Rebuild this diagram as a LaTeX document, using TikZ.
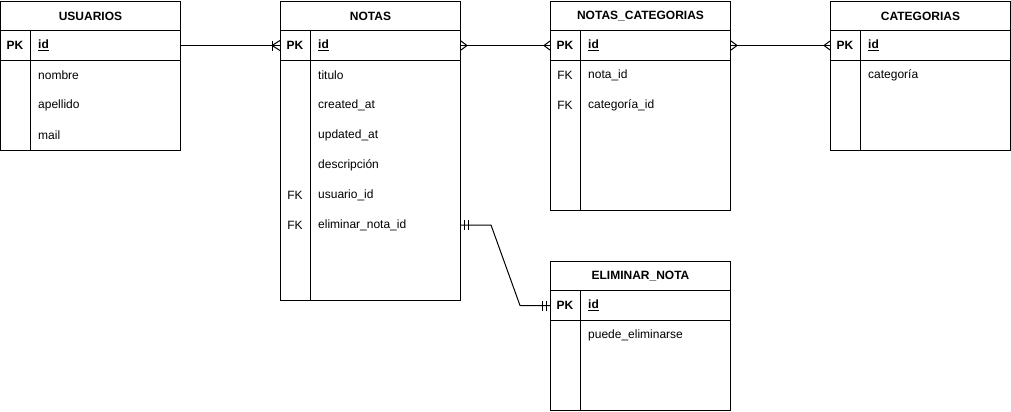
\documentclass[tikz,border=0pt]{standalone}
\usepackage{fontspec}
\setmainfont{Liberation Sans}
\usetikzlibrary{calc}
\newcommand{\fs}{\fontsize{12bp}{14bp}\selectfont}
\begin{document}
\begin{tikzpicture}[x=1bp,y=-1bp,
  hdr/.style={draw, line width=1bp, anchor=north west, minimum width=180bp, minimum height=29bp, inner sep=0pt, font=\bfseries\fs},
  pkrow/.style={draw, line width=1bp, anchor=north west, minimum width=180bp, minimum height=30bp, inner sep=0pt},
  body/.style={draw, line width=1bp},
  fld/.style={anchor=west, inner sep=0pt, font=\fs},
  key/.style={anchor=center, inner sep=0pt, font=\fs},
  pk/.style={anchor=center, inner sep=0pt, font=\bfseries\fs},
  ln/.style={line width=1bp, line join=round}]
\useasboundingbox (0,0) rectangle (1011,411);

% ---------- USUARIOS ----------
\node[hdr] (usuarios) at (0,1) {USUARIOS};
\node[pkrow] (u-pk) at (0,30) {};
\draw[body] (0,60) rectangle (180,150);
\draw[body] (30,30) -- (30,150);
\node[pk] at (15,45) {PK};
\node[fld] (u-id) at (38,45) {\bfseries\underline{id}};
\node[fld] (u-nombre) at (38,75) {nombre};
\node[fld] (u-apellido) at (38,105) {apellido};
\node[fld] (u-mail) at (38,135) {mail};

% ---------- NOTAS ----------
\node[hdr] (notas) at (280,1) {NOTAS};
\node[pkrow] (n-pk) at (280,30) {};
\draw[body] (280,60) rectangle (460,300);
\draw[body] (310,30) -- (310,300);
\node[pk] at (295,45) {PK};
\node[fld] (n-id) at (318,45) {\bfseries\underline{id}};
\node[fld] (n-titulo) at (318,75) {titulo};
\node[fld] (n-created) at (318,105) {created\_at};
\node[fld] (n-updated) at (318,135) {updated\_at};
\node[fld] (n-desc) at (318,165) {descripción};
\node[key] at (295,195) {FK};
\node[fld] (n-usuario) at (318,195) {usuario\_id};
\node[key] at (295,225) {FK};
\node[fld] (n-elim) at (318,225) {eliminar\_nota\_id};

% ---------- NOTAS_CATEGORIAS ----------
\node[hdr] (notascat) at (550,1) {NOTAS\_CATEGORIAS};
\node[pkrow] (nc-pk) at (550,30) {};
\draw[body] (550,60) rectangle (730,210);
\draw[body] (580,30) -- (580,210);
\node[pk] at (565,45) {PK};
\node[fld] (nc-id) at (588,45) {\bfseries\underline{id}};
\node[key] at (565,75) {FK};
\node[fld] (nc-nota) at (588,75) {nota\_id};
\node[key] at (565,105) {FK};
\node[fld] (nc-cat) at (588,105) {categoría\_id};

% ---------- CATEGORIAS ----------
\node[hdr] (categorias) at (830,1) {CATEGORIAS};
\node[pkrow] (c-pk) at (830,30) {};
\draw[body] (830,60) rectangle (1010,150);
\draw[body] (860,30) -- (860,150);
\node[pk] at (845,45) {PK};
\node[fld] (c-id) at (868,45) {\bfseries\underline{id}};
\node[fld] (c-cat) at (868,75) {categoría};

% ---------- ELIMINAR_NOTA ----------
\node[hdr] (elimnota) at (550,261) {ELIMINAR\_NOTA};
\node[pkrow] (e-pk) at (550,290) {};
\draw[body] (550,320) rectangle (730,410);
\draw[body] (580,290) -- (580,410);
\node[pk] at (565,305) {PK};
\node[fld] (e-id) at (588,305) {\bfseries\underline{id}};
\node[fld] (e-puede) at (588,335) {puede\_eliminarse};

% ---------- connectors ----------
% USUARIOS -> NOTAS (one to many)
\draw[ln] (u-pk.east) -- (n-pk.west);
\draw[ln] ($(n-pk.west)+(-8,-5)$) -- ($(n-pk.west)+(-8,5)$);
\draw[ln] ($(n-pk.west)+(0,-5)$) -- ($(n-pk.west)+(-8,0)$) -- ($(n-pk.west)+(0,5)$);

% NOTAS -> NOTAS_CATEGORIAS (many to many)
\draw[ln] (n-pk.east) -- (nc-pk.west);
\draw[ln] ($(n-pk.east)+(0,-4.5)$) -- ($(n-pk.east)+(6,0)$) -- ($(n-pk.east)+(0,4.5)$);
\draw[ln] ($(nc-pk.west)+(0,-4.5)$) -- ($(nc-pk.west)+(-6,0)$) -- ($(nc-pk.west)+(0,4.5)$);

% NOTAS_CATEGORIAS -> CATEGORIAS (many to many)
\draw[ln] (nc-pk.east) -- (c-pk.west);
\draw[ln] ($(nc-pk.east)+(0,-4.5)$) -- ($(nc-pk.east)+(6,0)$) -- ($(nc-pk.east)+(0,4.5)$);
\draw[ln] ($(c-pk.west)+(0,-4.5)$) -- ($(c-pk.west)+(-6,0)$) -- ($(c-pk.west)+(0,4.5)$);

% NOTAS.eliminar_nota_id -> ELIMINAR_NOTA (one to one)
\coordinate (s) at (n-elim -| notas.east);
\draw[ln] (s) -- ++(30,0) -- ($(e-pk.west)+(-30,0)$) -- (e-pk.west);
\draw[ln] ($(s)+(3,-5)$) -- ($(s)+(3,5)$);
\draw[ln] ($(s)+(7,-5)$) -- ($(s)+(7,5)$);
\draw[ln] ($(e-pk.west)+(-4,-5)$) -- ($(e-pk.west)+(-4,5)$);
\draw[ln] ($(e-pk.west)+(-8,-5)$) -- ($(e-pk.west)+(-8,5)$);
\end{tikzpicture}
\end{document}
